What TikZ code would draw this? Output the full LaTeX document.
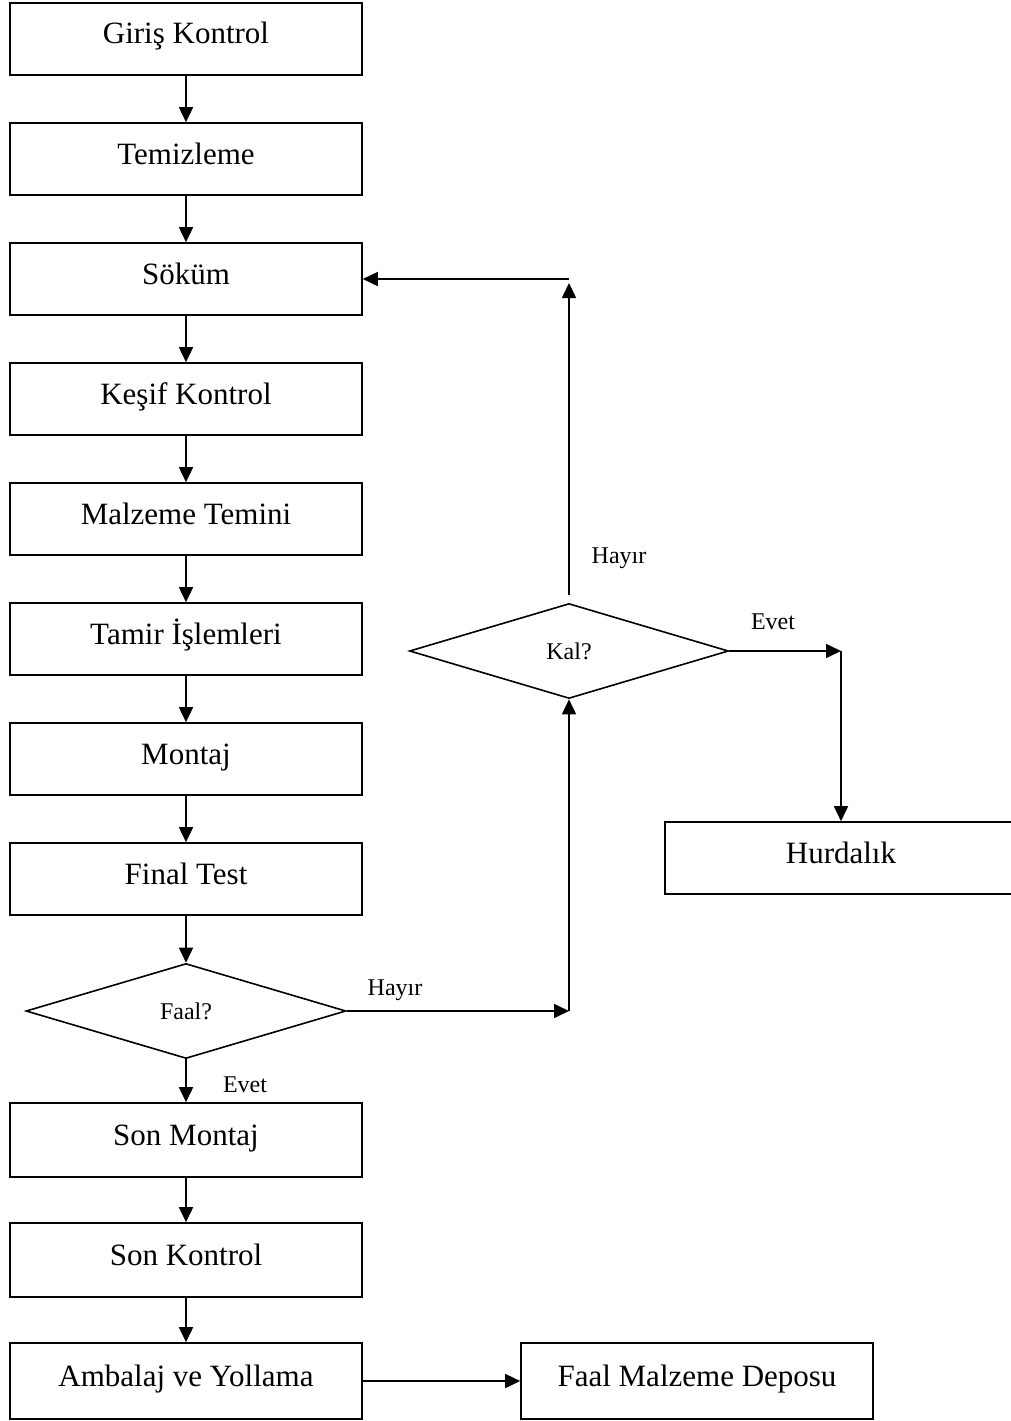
\documentclass[tikz,border=0pt]{standalone}
\usepackage{fontspec}
\setmainfont{Liberation Serif}
\usetikzlibrary{arrows.meta,shapes.geometric}
\begin{document}
\begin{tikzpicture}[x=1pt,y=-1pt,
  box/.style={draw,line width=1.6pt,minimum width=352pt,minimum height=72pt,inner sep=0pt,text height=22pt,text depth=12pt,font=\fontsize{31}{36}\selectfont},
  dec/.style={draw,diamond,line width=1.6pt,minimum width=320pt,minimum height=95pt,aspect=3.37,inner sep=0pt,font=\fontsize{24}{28}\selectfont},
  lbl/.style={font=\fontsize{24}{28}\selectfont,inner sep=0pt},
  arr/.style={line width=1.6pt,-{Triangle[length=15pt,width=14pt]}},
  ln/.style={line width=1.6pt}]
\useasboundingbox (0,0) rectangle (1011,1421);
\node[box] (b1) at (186,39) {Giriş Kontrol};
\node[box] (b2) at (186,159) {Temizleme};
\node[box] (b3) at (186,279) {Söküm};
\node[box] (b4) at (186,399) {Keşif Kontrol};
\node[box] (b5) at (186,519) {Malzeme Temini};
\node[box] (b6) at (186,639) {Tamir İşlemleri};
\node[box] (b7) at (186,759) {Montaj};
\node[box] (b8) at (186,879) {Final Test};
\node[dec] (faal) at (186,1011) {Faal?};
\node[box,minimum height=74pt] (b9) at (186,1140) {Son Montaj};
\node[box,minimum height=74pt] (b10) at (186,1260) {Son Kontrol};
\node[box,minimum height=76pt] (b11) at (186,1381) {Ambalaj ve Yollama};
\node[box,minimum height=76pt] (depo) at (697,1381) {Faal Malzeme Deposu};
\node[dec,minimum width=319pt] (kal) at (569,651) {Kal?};
\node[box] (hurd) at (841,858) {Hurdalık};
\coordinate (c1) at (569,1011);
\coordinate (c2) at (569,595);
\coordinate (c3) at (569,283);
\coordinate (c4) at (569,279);
\coordinate (c5) at (841,651);
\foreach \a/\b in {b1/b2,b2/b3,b3/b4,b4/b5,b5/b6,b6/b7,b7/b8,b8/faal,faal/b9,b9/b10,b10/b11}
  \draw[arr] (\a.south) -- (\b.north);
\draw[arr] (b11.east) -- (depo.west);
\draw[arr] (faal.east) -- (c1);
\draw[arr] (c1) -- (kal.south);
\draw[arr] (c2) -- (c3);
\draw[arr] (c4) -- (b3.east);
\draw[arr] (kal.east) -- (c5);
\draw[arr] (c5) -- (hurd.north);
\node[lbl] (l1) at (619,558) {Hayır};
\node[lbl] (l2) at (773,622) {Evet};
\node[lbl] (l3) at (395,990) {Hayır};
\node[lbl] (l4) at (245,1085) {Evet};
\end{tikzpicture}
\end{document}
